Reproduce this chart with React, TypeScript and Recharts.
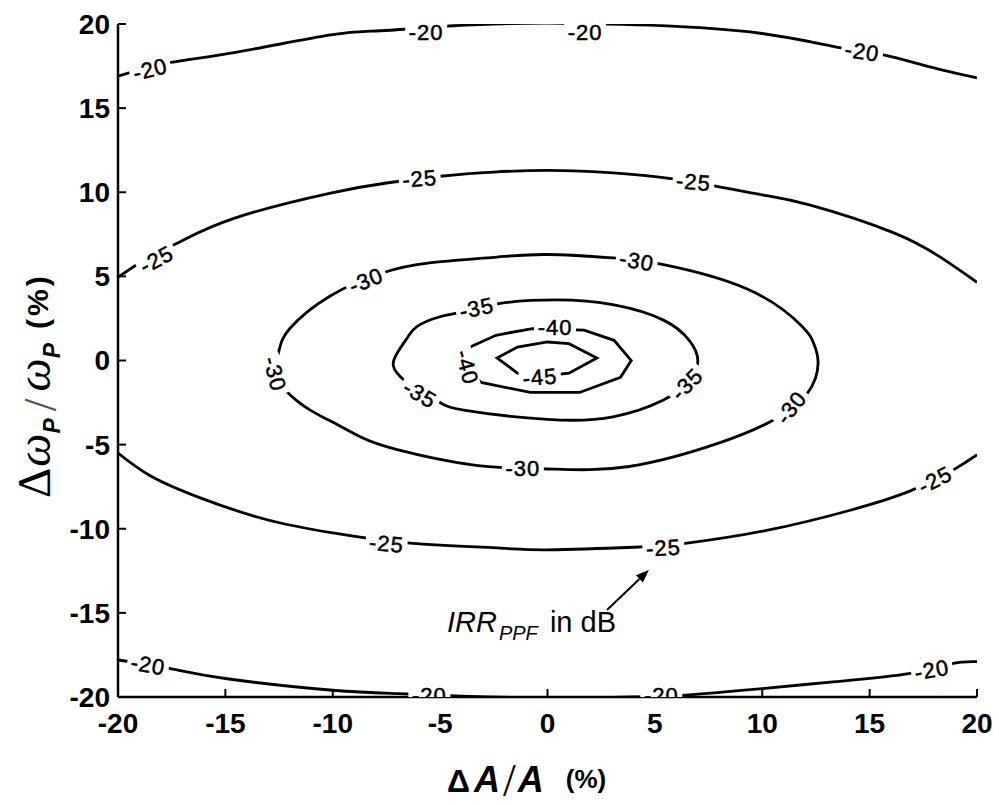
import { ComposedChart, Line, Scatter, XAxis, YAxis, ReferenceDot, ReferenceLine } from "recharts";

// axis ticks (percent)
const xTicks = [-20, -15, -10, -5, 0, 5, 10, 15, 20];
const yTicks = [-20, -15, -10, -5, 0, 5, 10, 15, 20];

// contour lines, x = dA/A, y = dwP/wP (both %)
const irr20Top = [
  { x: -20, y: 16.9 }, { x: -17.6, y: 17.7 }, { x: -14.6, y: 18.3 }, { x: -10.1, y: 19.35 },
  { x: -7.8, y: 19.6 }, { x: -5, y: 19.85 }, { x: -2.5, y: 20.0 }, { x: 0, y: 20.05 },
  { x: 2.5, y: 20.0 }, { x: 5.3, y: 19.9 }, { x: 9.9, y: 19.45 }, { x: 13.6, y: 18.6 },
  { x: 15.7, y: 18.15 }, { x: 17.8, y: 17.45 }, { x: 20, y: 16.8 },
];
const irr20Bottom = [
  { x: -20, y: -17.8 }, { x: -17.6, y: -18.3 }, { x: -15, y: -18.9 }, { x: -10, y: -19.6 },
  { x: -6.9, y: -19.8 }, { x: -4, y: -19.95 }, { x: 0, y: -20.05 }, { x: 4, y: -20.0 },
  { x: 6.2, y: -19.9 }, { x: 10, y: -19.5 }, { x: 13.3, y: -19.1 }, { x: 16.9, y: -18.6 },
  { x: 18.9, y: -18.0 }, { x: 20, y: -17.9 },
];
const irr25Top = [
  { x: -20, y: 4.95 }, { x: -18.5, y: 6.2 }, { x: -17.2, y: 7.0 }, { x: -14.6, y: 8.45 },
  { x: -10.1, y: 9.95 }, { x: -7.5, y: 10.55 }, { x: -5, y: 10.95 }, { x: -2.5, y: 11.2 },
  { x: 0, y: 11.3 }, { x: 2.5, y: 11.2 }, { x: 5.2, y: 10.9 }, { x: 7.7, y: 10.4 },
  { x: 10, y: 9.85 }, { x: 12.2, y: 9.25 }, { x: 16.1, y: 7.6 }, { x: 18.4, y: 6.05 },
  { x: 20, y: 4.65 },
];
const irr25Bottom = [
  { x: -20, y: -5.5 }, { x: -18.5, y: -6.85 }, { x: -16.2, y: -8.15 }, { x: -13.1, y: -9.45 },
  { x: -10, y: -10.25 }, { x: -6.4, y: -10.85 }, { x: -2.2, y: -11.15 }, { x: 0, y: -11.25 },
  { x: 4, y: -11.1 }, { x: 6.5, y: -10.85 }, { x: 10.2, y: -10.1 }, { x: 14.1, y: -8.9 },
  { x: 16.9, y: -7.75 }, { x: 18.9, y: -6.5 }, { x: 20, y: -5.6 },
];
const irr30 = [
  { x: -12.8, y: -0.7 }, { x: -12.5, y: 0.6 }, { x: -12.0, y: 1.9 }, { x: -10.1, y: 3.85 },
  { x: -7.7, y: 5.2 }, { x: -5.5, y: 5.8 }, { x: -2.35, y: 6.15 }, { x: 0, y: 6.3 },
  { x: 3.05, y: 6.1 }, { x: 5.4, y: 5.7 }, { x: 9.3, y: 4.25 }, { x: 11.8, y: 2.1 },
  { x: 12.4, y: 1.0 }, { x: 12.6, y: -0.15 }, { x: 12.1, y: -1.95 }, { x: 10.5, y: -3.55 },
  { x: 8.0, y: -4.9 }, { x: 3.8, y: -6.3 }, { x: 0, y: -6.45 }, { x: -3.5, y: -6.2 },
  { x: -7, y: -5.3 }, { x: -8.7, y: -4.55 }, { x: -10.1, y: -3.6 }, { x: -11.05, y: -2.95 },
  { x: -12.1, y: -1.9 }, { x: -12.8, y: -0.7 },
];
const irr35 = [
  { x: -5.95, y: -2.0 }, { x: -7.0, y: -0.75 }, { x: -7.1, y: 0.2 }, { x: -6.5, y: 1.4 },
  { x: -6.1, y: 2.0 }, { x: -5, y: 2.6 }, { x: -3.3, y: 3.05 }, { x: -2.2, y: 3.4 },
  { x: 0.4, y: 3.6 }, { x: 3.1, y: 3.3 }, { x: 5.4, y: 2.4 }, { x: 6.6, y: 1.2 },
  { x: 7.0, y: 0 }, { x: 6.6, y: -1.2 }, { x: 5.4, y: -2.35 }, { x: 3.05, y: -3.35 },
  { x: 0, y: -3.5 }, { x: -3.9, y: -2.95 }, { x: -5, y: -2.5 }, { x: -5.95, y: -2.0 },
];
const irr40 = [
  { x: -3.8, y: -0.4 }, { x: -3.6, y: 0.8 }, { x: -2.4, y: 1.5 }, { x: -0.7, y: 1.9 },
  { x: 1.7, y: 1.8 }, { x: 3.1, y: 1.2 }, { x: 3.9, y: 0 }, { x: 3.4, y: -1.0 },
  { x: 1.5, y: -1.9 }, { x: -0.8, y: -1.9 }, { x: -3.1, y: -1.3 }, { x: -3.8, y: -0.4 },
];
const irr45 = [
  { x: -0.35, y: -0.95 }, { x: -1.4, y: -0.75 }, { x: -2.35, y: 0.15 }, { x: -1.4, y: 0.8 },
  { x: 0, y: 1.1 }, { x: 1.0, y: 1.0 }, { x: 2.3, y: 0.15 }, { x: 1.0, y: -0.75 },
  { x: -0.35, y: -0.95 },
];

// inline contour labels (position on the line, text, rotation in degrees)
const contourLabels = [
  { x: -18.5, y: 17.3, text: "-20", rot: -14 },
  { x: -5.65, y: 19.5, text: "-20", rot: 0 },
  { x: 1.75, y: 19.5, text: "-20", rot: 0 },
  { x: 14.65, y: 18.35, text: "-20", rot: 9 },
  { x: -18.2, y: 6.0, text: "-25", rot: -28 },
  { x: -5.95, y: 10.8, text: "-25", rot: -5 },
  { x: 6.8, y: 10.6, text: "-25", rot: 5 },
  { x: -8.45, y: 4.75, text: "-30", rot: -22 },
  { x: 4.15, y: 5.9, text: "-30", rot: 10 },
  { x: -12.7, y: -0.8, text: "-30", rot: 75 },
  { x: 11.35, y: -2.8, text: "-30", rot: -52 },
  { x: -1.15, y: -6.4, text: "-30", rot: 0 },
  { x: -3.3, y: 3.1, text: "-35", rot: -12 },
  { x: -5.95, y: -2.0, text: "-35", rot: 30 },
  { x: 6.5, y: -1.4, text: "-35", rot: -45 },
  { x: 0.35, y: 1.95, text: "-40", rot: 0 },
  { x: -3.75, y: -0.4, text: "-40", rot: 75 },
  { x: -0.35, y: -1.0, text: "-45", rot: -5 },
  { x: -7.5, y: -10.9, text: "-25", rot: 5 },
  { x: 5.4, y: -11.15, text: "-25", rot: -3 },
  { x: 18.05, y: -7.1, text: "-25", rot: -27 },
  { x: -18.6, y: -18.1, text: "-20", rot: 10 },
  { x: -5.5, y: -19.9, text: "-20", rot: 0 },
  { x: 5.3, y: -19.9, text: "-20", rot: 0 },
  { x: 17.9, y: -18.4, text: "-20", rot: -10 },
];

// annotation
const noteAt = { x: -4.68, y: -16.14 };
const arrowTail = { x: 2.77, y: -14.83 };
const arrowHead = { x: 4.72, y: -12.45 };

const contours = [
  { key: "c20t", pts: irr20Top, curve: "natural" },
  { key: "c20b", pts: irr20Bottom, curve: "natural" },
  { key: "c25t", pts: irr25Top, curve: "natural" },
  { key: "c25b", pts: irr25Bottom, curve: "natural" },
  { key: "c30", pts: irr30, curve: "natural" },
  { key: "c35", pts: irr35, curve: "natural" },
  { key: "c40", pts: irr40, curve: "linear" },
  { key: "c45", pts: irr45, curve: "linear" },
];

const SANS = "'Liberation Sans', Arial, Helvetica, sans-serif";
const SERIF = "'Liberation Serif', 'Times New Roman', serif";

function ContourLabel(props: any) {
  const { cx, cy, payload } = props;
  if (cx == null || cy == null) return <g />;
  return (
    <g transform={`translate(${cx},${cy}) rotate(${payload.rot})`}>
      <rect x={-21} y={-9} width={42} height={18} fill="#fff" />
      <text
        textAnchor="middle"
        dominantBaseline="central"
        fontFamily={SANS}
        fontSize={22}
        letterSpacing={1}
        fill="#000"
        stroke="#000"
        strokeWidth={0.5}
      >
        {payload.text}
      </text>
    </g>
  );
}

function NoteText(props: any) {
  const { cx, cy } = props;
  return (
    <text x={cx} y={cy} fontFamily={SANS} fill="#000">
      <tspan fontSize={29} fontStyle="italic">IRR</tspan>
      <tspan fontSize={20} fontStyle="italic" dy={8} dx={2}>PPF</tspan>
      <tspan fontSize={29} dy={-8} dx={4}> in dB</tspan>
    </text>
  );
}

function Arrow(props: any) {
  const { x1, y1, x2, y2 } = props;
  const a = Math.atan2(y2 - y1, x2 - x1);
  const len = 13;
  const w = 5;
  const bx = x2 - len * Math.cos(a);
  const by = y2 - len * Math.sin(a);
  const px = -Math.sin(a) * w;
  const py = Math.cos(a) * w;
  return (
    <g>
      <line x1={x1} y1={y1} x2={bx} y2={by} stroke="#000" strokeWidth={2} />
      <polygon points={`${x2},${y2} ${bx + px},${by + py} ${bx - px},${by - py}`} fill="#000" />
    </g>
  );
}

function XTitle({ viewBox }: any) {
  const { x, y } = viewBox;
  return (
    <text x={x + 329} y={y + 95} fill="#000">
      <tspan fontFamily={SANS} fontWeight="bold" fontSize={32}>Δ</tspan>
      <tspan fontFamily={SANS} fontWeight="bold" fontStyle="italic" fontSize={36} dx={4}>A</tspan>
      <tspan fontFamily={SERIF} fontSize={46} dx={3} dy={4}>/</tspan>
      <tspan fontFamily={SANS} fontWeight="bold" fontStyle="italic" fontSize={36} dx={2} dy={-4}>A</tspan>
      <tspan fontFamily={SANS} fontWeight="bold" fontSize={26} dx={22} dy={-4}>(%)</tspan>
    </text>
  );
}

function YTitle({ viewBox }: any) {
  const { x, y } = viewBox;
  const tx = x + 50;
  const ty = y + 474;
  return (
    <text x={tx} y={ty} fill="#000" transform={`rotate(-90, ${tx}, ${ty})`}>
      <tspan fontFamily={SERIF} fontSize={47}>Δ</tspan>
      <tspan fontFamily={SERIF} fontStyle="italic" fontSize={47} dx={1}>ω</tspan>
      <tspan fontFamily={SANS} fontWeight="bold" fontStyle="italic" fontSize={23} dy={10}>P</tspan>
      <tspan fontFamily={SERIF} fontSize={46} dx={7} dy={-4} fill="#555">/</tspan>
      <tspan fontFamily={SERIF} fontStyle="italic" fontSize={47} dx={7} dy={-6}>ω</tspan>
      <tspan fontFamily={SANS} fontWeight="bold" fontStyle="italic" fontSize={23} dy={10}>P</tspan>
      <tspan fontFamily={SANS} fontWeight="bold" fontSize={30} dx={14} dy={-12} letterSpacing={3}>(%)</tspan>
    </text>
  );
}

const tickFont = { fill: "#000", fontSize: 28, fontWeight: "bold", fontFamily: SANS };
const frame = { stroke: "#000", strokeWidth: 2.5 };
const tickStroke = { stroke: "#000", strokeWidth: 2 };

export default function App() {
  return (
    <div style={{ position: "absolute", left: 0, top: 0, background: "#fff" }}>
      <ComposedChart width={999} height={805} margin={{ top: 24, right: 22, left: 0, bottom: 0 }}>
        {contours.map((c) => (
          <Line
            key={c.key}
            data={c.pts}
            dataKey="y"
            type={c.curve as any}
            stroke="#000"
            strokeWidth={2.8}
            dot={false}
            activeDot={false}
            isAnimationActive={false}
          />
        ))}
        <Scatter data={contourLabels} shape={ContourLabel} isAnimationActive={false} />
        <ReferenceLine segment={[arrowTail, arrowHead]} shape={Arrow} ifOverflow="visible" />
        <ReferenceDot x={noteAt.x} y={noteAt.y} r={0} shape={NoteText} ifOverflow="visible" />
        <XAxis
          dataKey="x"
          type="number"
          domain={[-20, 20]}
          ticks={xTicks}
          interval={0}
          allowDataOverflow
          height={108}
          tickSize={-8}
          tickMargin={24}
          axisLine={frame}
          tickLine={tickStroke}
          tick={tickFont}
          label={(p: any) => <XTitle viewBox={p.viewBox} />}
        />
        <XAxis
          xAxisId="top"
          orientation="top"
          type="number"
          domain={[-20, 20]}
          ticks={xTicks}
          interval={0}
          height={0}
          tickSize={-8}
          axisLine={frame}
          tickLine={tickStroke}
          tick={false}
        />
        <YAxis
          dataKey="y"
          type="number"
          domain={[-20, 20]}
          ticks={yTicks}
          interval={0}
          allowDataOverflow
          width={118}
          tickSize={-8}
          tickMargin={16}
          axisLine={frame}
          tickLine={tickStroke}
          tick={tickFont}
          label={(p: any) => <YTitle viewBox={p.viewBox} />}
        />
        <YAxis
          yAxisId="right"
          orientation="right"
          type="number"
          domain={[-20, 20]}
          ticks={yTicks}
          interval={0}
          width={0}
          tickSize={-8}
          axisLine={frame}
          tickLine={tickStroke}
          tick={false}
        />
      </ComposedChart>
    </div>
  );
}
